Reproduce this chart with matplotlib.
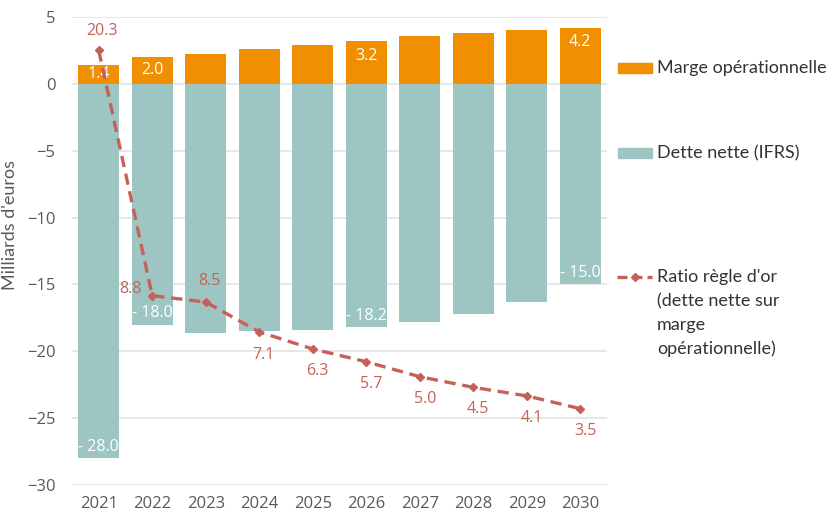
import matplotlib
matplotlib.use('Agg')
import matplotlib.pyplot as plt
from matplotlib.patches import Rectangle
from matplotlib.lines import Line2D
import numpy as np

years = ['2021', '2022', '2023', '2024', '2025', '2026', '2027', '2028', '2029', '2030']
marge = [1.4, 2.0, 2.2, 2.6, 2.9, 3.2, 3.6, 3.8, 4.0, 4.2]
dette = [-28.0, -18.0, -18.6, -18.5, -18.4, -18.2, -17.8, -17.2, -16.3, -15.0]
ratio = [20.3, 8.8, 8.5, 7.1, 6.3, 5.7, 5.0, 4.5, 4.1, 3.5]
marge_shown = [0, 1, 5, 9]
dette_shown = [0, 1, 5, 9]
# where each ratio label sits relative to its point (dx, dy in pixels)
ratio_offsets = [(3, 19), (-22, 7), (4, 21), (4, -23), (5, -22), (5, -22), (5, -22), (5, -22), (5, -22), (5, -22)]

ORANGE = '#F18F01'
TEAL = '#9DC6C3'
RED = '#C6615A'
GREY = '#595959'
NUM_FONT = ['Open Sans', 'DejaVu Sans']
TXT_FONT = ['Lato', 'DejaVu Sans']

W, H = 831, 514
fig = plt.figure(figsize=(W / 100, H / 100), dpi=100)
ax = fig.add_axes([72 / W, 1 - 485 / H, (607 - 72) / W, (485 - 17) / H])

x = np.arange(len(years))
ax.bar(x, marge, width=0.76, color=ORANGE, zorder=2)
ax.bar(x, dette, width=0.76, color=TEAL, zorder=2)
ax.set_xlim(-0.5, 9.5)
ax.set_ylim(-30, 5)
ax.set_yticks(np.arange(-30, 6, 5))
ax.set_xticks(x)
ax.set_xticklabels(years)
ax.yaxis.grid(True, color='#E3E3E3', linewidth=1.2, zorder=0)
ax.set_axisbelow(True)
for s in ax.spines.values():
    s.set_visible(False)
ax.tick_params(axis='both', length=0, labelsize=12, colors=GREY)
ax.tick_params(axis='y', pad=12)
ax.tick_params(axis='x', pad=8)
for lab in ax.get_xticklabels() + ax.get_yticklabels():
    lab.set_family(NUM_FONT)
ax.set_ylabel("Milliards d'euros", fontsize=13, color=GREY, family=TXT_FONT)
ax.yaxis.set_label_coords(-0.10, 0.556)

px = 30 / 468  # data units per pixel on the bar axis
for i in marge_shown:
    off = min(17, marge[i] / px / 2)
    ax.text(x[i], marge[i] - off * px, f'{marge[i]:.1f}', ha='center', va='center',
            color='white', fontsize=11.5, family=NUM_FONT, zorder=3)
for i in dette_shown:
    ax.text(x[i], dette[i] + 13 * px, f'- {abs(dette[i]):.1f}', ha='center', va='center',
            color='white', fontsize=11.5, family=NUM_FONT, zorder=3)

ax2 = ax.twinx()
ax2.plot(x, ratio, color=RED, linestyle=(0, (3.4, 2.0)), linewidth=2.4,
         marker='D', markersize=4.5, zorder=4)
ax2.set_ylim(-0.08, 21.87)
ax2.set_yticks([])
for s in ax2.spines.values():
    s.set_visible(False)
for i, r in enumerate(ratio):
    dx, dy = ratio_offsets[i]
    ax2.annotate(f'{r:.1f}', (x[i], r), xytext=(dx * 0.72, dy * 0.72), textcoords='offset points',
                 ha='center', va='center', color=RED, fontsize=11.5, family=NUM_FONT)

# legend drawn by hand to follow the original placement
def fx(p):
    return p / W

def fy(p):
    return 1 - p / H

fig.add_artist(Rectangle((fx(618), fy(73)), fx(34), 10 / H, color=ORANGE, transform=fig.transFigure))
fig.add_artist(Rectangle((fx(618), fy(158)), fx(34), 10 / H, color=TEAL, transform=fig.transFigure))
fig.add_artist(Line2D([fx(617), fx(652)], [fy(277), fy(277)], color=RED, linestyle=(0, (3, 1.5)),
                      linewidth=2.4, transform=fig.transFigure))
fig.add_artist(Line2D([fx(635)], [fy(277)], color=RED, marker='D', markersize=4.5,
                      transform=fig.transFigure))
leg_kw = dict(fontsize=13, color='#333333', family=TXT_FONT, va='center', ha='left')
fig.text(fx(657), fy(68), 'Marge opérationnelle', **leg_kw)
fig.text(fx(657), fy(153), 'Dette nette (IFRS)', **leg_kw)
for k, line in enumerate(["Ratio règle d'or", '(dette nette sur', 'marge', 'opérationnelle)']):
    fig.text(fx(657), fy(277 + 24 * k), line, **leg_kw)

fig.savefig('out.png', dpi=100)
